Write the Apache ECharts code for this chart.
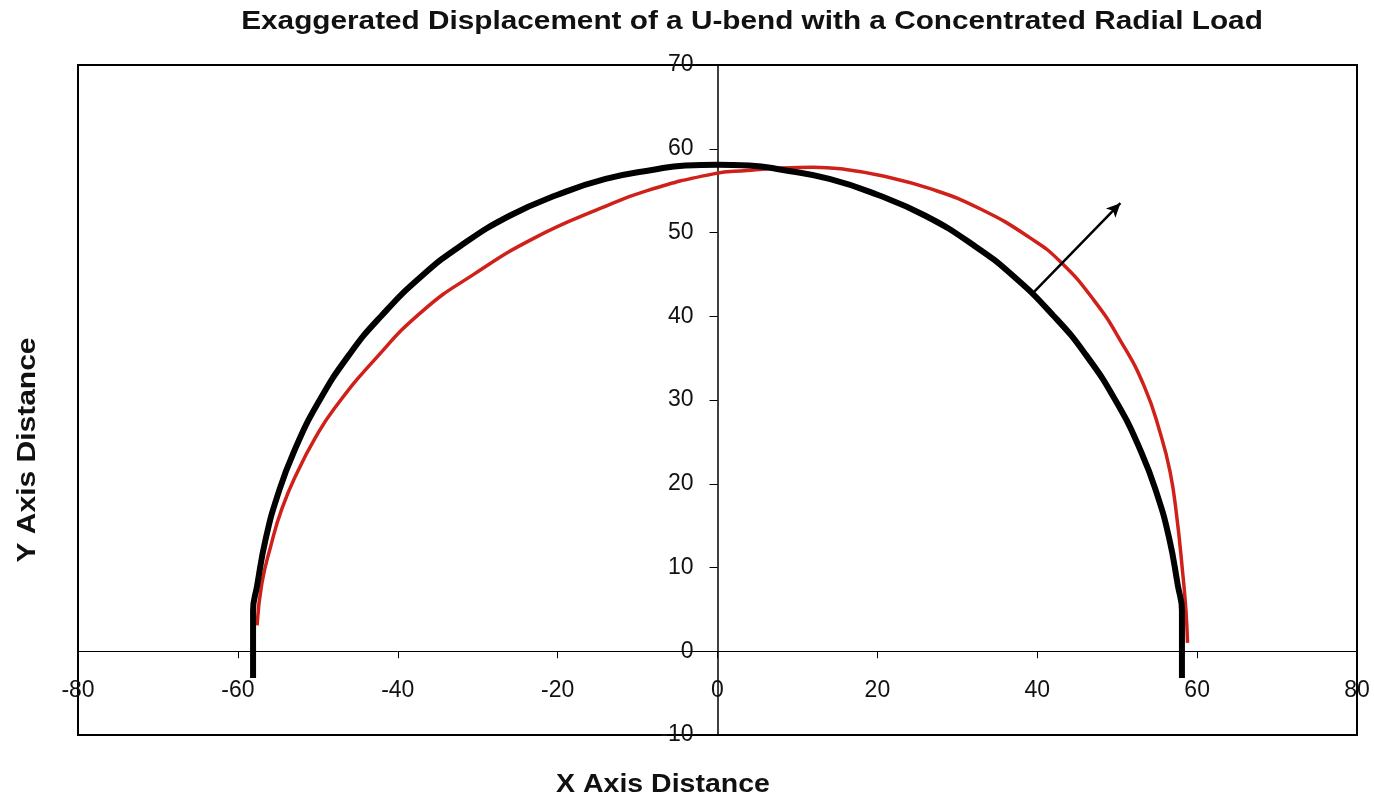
<!DOCTYPE html>
<html>
<head>
<meta charset="utf-8">
<script src="https://cdn.jsdelivr.net/npm/echarts@6/dist/echarts.min.js"></script>
<style>
html,body{margin:0;padding:0;background:#fff;}
#chart{width:1374px;height:801px;}
</style>
</head>
<body>
<div id="chart"></div>
<script>
// Original (undeformed) U-bend
const originalX = [-58.1,-58.1,-58.1,-57.6,-56.5,-55,-53,-50,-46,-42,-37,-32,-26,-20,-14,-8,-4,0,4,8,14,20,26,32,37,42,46,50,53,55,56.5,57.6,58.1,58.1,58.1];
const originalY = [-3.2,0,4.8,7.8,13.5,18.7,23.8,29.6,35.5,40.1,44.8,48.5,52.0,54.5,56.4,57.5,58.0,58.1,58.0,57.5,56.4,54.5,52.0,48.5,44.8,40.1,35.5,29.6,23.8,18.7,13.5,7.8,4.8,0,-3.2];
// Displaced U-bend (exaggerated)
const displacedX = [-57.6,-57.0,-55.9,-54.5,-52.5,-50.3,-48.0,-43.0,-36.8,-30.5,-23.0,-14.6,-8.8,-0.5,3.7,8.0,12.0,15.4,20.4,26.7,32.9,39.2,42.9,47.1,50.4,53.4,55.4,56.6,57.4,58.2,58.6,58.8];
const displacedY = [3.1,8.1,12.5,17.0,21.5,25.5,28.9,34.7,40.7,45.0,49.3,52.9,55.0,57.0,57.4,57.7,57.8,57.6,56.8,55.2,52.8,49.3,46.5,41.9,37.1,31.6,26.0,21.5,16.5,9.3,4.9,1.0];
// Load arrow
const arrowFrom = [39.6, 42.9];
const arrowTo = [50.4, 53.5];
const xTicks = {min:-80, max:80, interval:20};
const yTicks = {min:-10, max:70, interval:10};

const zip = (a,b) => a.map((v,i)=>[v,b[i]]);
const font = '"Liberation Sans", Arial, sans-serif';
const G = {left:78, right:17, top:65, bottom:66};
const W = 1374, H = 801;
const gw = W - G.left - G.right, gh = H - G.top - G.bottom;
// place axes through zero
const xAxisOffset = -gh * (0 - yTicks.min) / (yTicks.max - yTicks.min);
const yAxisOffset = -gw * (0 - xTicks.min) / (xTicks.max - xTicks.min);

const chart = echarts.init(document.getElementById('chart'));
chart.setOption({
  backgroundColor:'#fff',
  animation:false,
  grid:{left:G.left, right:G.right, top:G.top, bottom:G.bottom, show:true, borderColor:'#000', borderWidth:2, backgroundColor:'transparent'},
  xAxis:{
    type:'value', min:xTicks.min, max:xTicks.max, interval:xTicks.interval,
    position:'bottom', offset:xAxisOffset,
    axisLine:{onZero:false, lineStyle:{color:'#000', width:1}},
    axisTick:{show:true, length:7, lineStyle:{color:'#000'}},
    axisLabel:{color:'#111', fontFamily:font, fontSize:23, margin:28, showMinLabel:true, showMaxLabel:true},
    splitLine:{show:false}
  },
  yAxis:{
    type:'value', min:yTicks.min, max:yTicks.max, interval:yTicks.interval,
    position:'left', offset:yAxisOffset,
    axisLine:{onZero:false, lineStyle:{color:'#000', width:1.5}},
    axisTick:{show:true, length:8, lineStyle:{color:'#000'}},
    axisLabel:{color:'#111', fontFamily:font, fontSize:23, margin:24, showMinLabel:true, showMaxLabel:true},
    splitLine:{show:false}
  },
  graphic:[
    {type:'text', x:752, y:22, scaleX:1.19, z:10,
     style:{text:'Exaggerated Displacement of a U-bend with a Concentrated Radial Load', fill:'#111', font:'bold 25px '+font, align:'center', verticalAlign:'middle'}},
    {type:'text', x:663, y:785, scaleX:1.14, z:10,
     style:{text:'X Axis Distance', fill:'#111', font:'bold 25px '+font, align:'center', verticalAlign:'middle'}},
    {type:'text', x:28, y:450, rotation:Math.PI/2, scaleX:1.2, z:10,
     style:{text:'Y Axis Distance', fill:'#111', font:'bold 25px '+font, align:'center', verticalAlign:'middle'}}
  ],
  series:[
    {
      type:'line', name:'Displaced', data:zip(displacedX, displacedY), smooth:0.5,
      showSymbol:false, lineStyle:{color:'#d0201a', width:3.5}, z:2
    },
    {
      type:'line', name:'Original', data:zip(originalX, originalY), smooth:0.5,
      showSymbol:false, lineStyle:{color:'#000', width:6}, z:3,
      markLine:{
        silent:true, symbol:['none','arrow'], symbolSize:[10,14],
        label:{show:false},
        lineStyle:{color:'#000', width:2.5, type:'solid'},
        data:[[{coord:arrowFrom},{coord:arrowTo}]]
      }
    }
  ]
});
</script>
</body>
</html>
